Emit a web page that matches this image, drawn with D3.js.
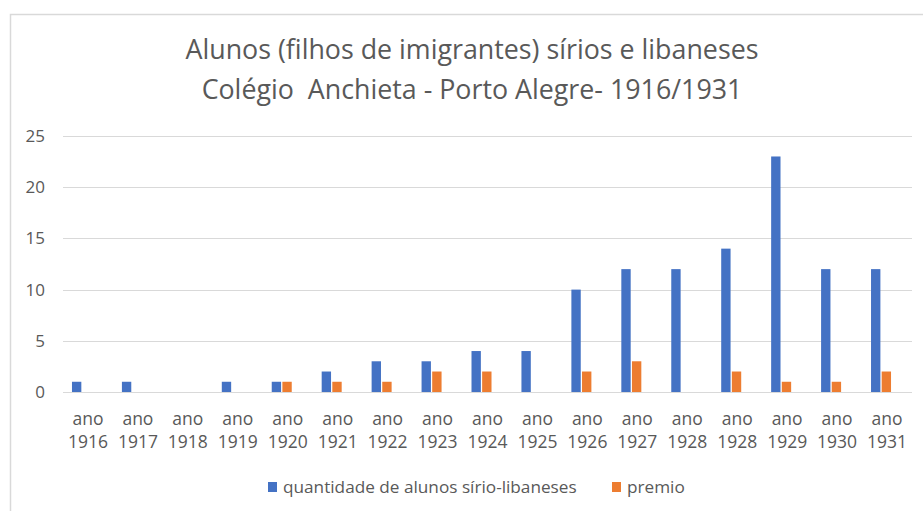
<!DOCTYPE html>
<html>
<head>
<meta charset="utf-8">
<script src="https://cdn.jsdelivr.net/npm/d3@7"></script>
<style>
  body { margin: 0; background: #fff; }
  text { font-family: "Open Sans", sans-serif; fill: #595959; }
  text.title { white-space: pre; }
</style>
</head>
<body>
<svg id="chart" width="923" height="511"></svg>
<script>
let years = ["1916","1917","1918","1919","1920","1921","1922","1923","1924","1925","1926","1927","1928","1928","1929","1930","1931"]
let alunos = [1,1,0,1,1,2,3,3,4,4,10,12,12,14,23,12,12]
let premio = [0,0,0,0,1,1,1,2,2,0,2,3,0,2,1,1,2]
let yTicks = [0,5,10,15,20,25]
let seriesNames = ["quantidade de alunos sírio-libaneses", "premio"]
let colors = ["#4472C4", "#ED7D31"]
let titleLines = ["Alunos (filhos de imigrantes) sírios e libaneses", "Colégio  Anchieta - Porto Alegre- 1916/1931"]

let svg = d3.select("#chart")
let W = 923, H = 511
let plot = { left: 63, right: 912, top: 136, bottom: 392 }

// frame (only top and left edge visible in the crop)
svg.append("rect")
  .attr("x", 10.5).attr("y", 14.5)
  .attr("width", W + 20).attr("height", H + 20)
  .attr("fill", "none").attr("stroke", "#d9d9d9").attr("stroke-width", 1.5)

// title
svg.selectAll("text.title").data(titleLines).enter()
  .append("text").classed("title", true)
  .attr("x", 472).attr("y", (d, i) => 59 + i * 40)
  .attr("text-anchor", "middle")
  .style("font-size", "26.8px")
  .text(d => d)

let idx = d3.range(years.length)
let x = d3.scaleBand().domain(idx).range([plot.left, plot.right])
let inner = d3.scaleBand().domain([0, 1]).range([0, 20]).paddingInner(0.12)
let y = d3.scaleLinear().domain([0, 25]).range([plot.bottom, plot.top])

// gridlines
svg.append("g").selectAll("line").data(yTicks).enter()
  .append("line")
  .attr("x1", plot.left).attr("x2", plot.right)
  .attr("y1", d => Math.round(y(d)) + 0.5).attr("y2", d => Math.round(y(d)) + 0.5)
  .attr("stroke", "#d9d9d9").attr("stroke-width", 1)

// y labels
svg.append("g").selectAll("text").data(yTicks).enter()
  .append("text")
  .attr("x", 45).attr("y", d => y(d) + 6)
  .attr("text-anchor", "end")
  .style("font-size", "17px")
  .text(d => d)

// bars
let groups = svg.append("g").selectAll("g").data(idx).enter()
  .append("g")
  .attr("transform", d => `translate(${x(d) + x.bandwidth() / 2 - 16},0)`)

groups.selectAll("rect")
  .data(d => [alunos[d], premio[d]])
  .enter().append("rect")
  .attr("x", (d, i) => inner(i))
  .attr("width", inner.bandwidth())
  .attr("y", d => y(d))
  .attr("height", d => y(0) - y(d))
  .attr("fill", (d, i) => colors[i])

// x labels
let xl = svg.append("g").selectAll("text").data(idx).enter()
  .append("text")
  .attr("x", d => x(d) + x.bandwidth() / 2)
  .attr("text-anchor", "middle")
  .style("font-size", "17.5px")
xl.append("tspan").attr("y", 425).text("ano")
xl.append("tspan").attr("x", d => x(d) + x.bandwidth() / 2).attr("y", 448).text(d => years[d])

// legend
let legendX = [268, 612]
let leg = svg.append("g").selectAll("g").data(seriesNames).enter()
  .append("g").attr("transform", (d, i) => `translate(${legendX[i]},482)`)
leg.append("rect").attr("width", 9).attr("height", 10).attr("fill", (d, i) => colors[i])
leg.append("text").attr("x", 15).attr("y", 11).style("font-size", "17.2px").text(d => d)
</script>
</body>
</html>
